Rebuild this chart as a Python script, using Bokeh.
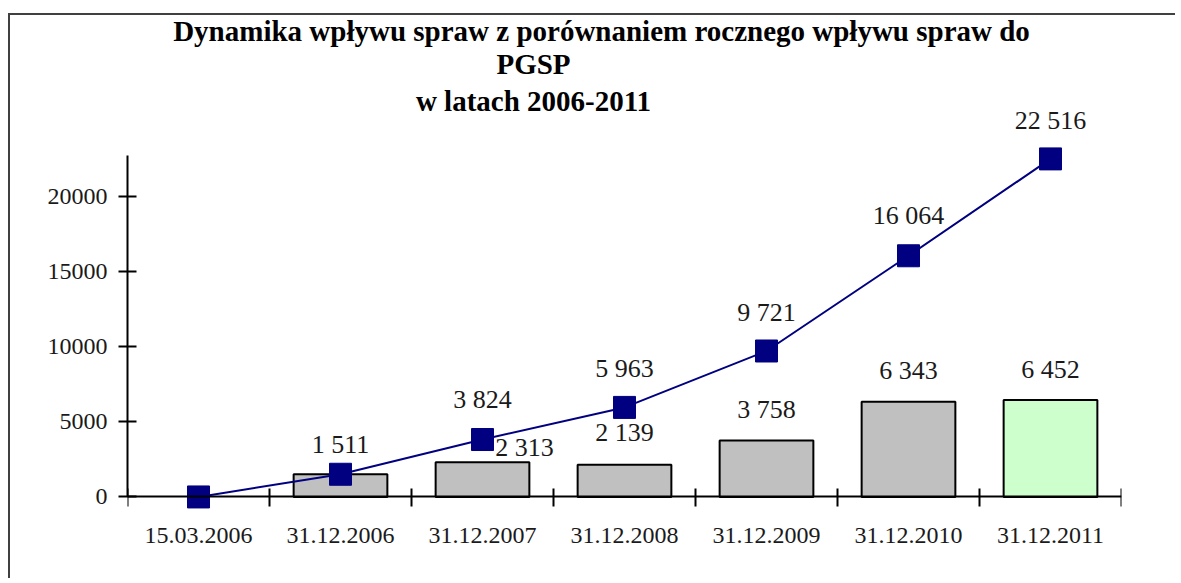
from bokeh.plotting import figure
from bokeh.models import Range1d, FixedTicker, ColumnDataSource, LabelSet, Label
from bokeh.embed import file_html
from bokeh.resources import INLINE
from bokeh.core.properties import value

categories = ["15.03.2006", "31.12.2006", "31.12.2007", "31.12.2008",
              "31.12.2009", "31.12.2010", "31.12.2011"]
annual_intake = [0, 1511, 2313, 2139, 3758, 6343, 6452]
cumulative_intake = [0, 1511, 3824, 5963, 9721, 16064, 22516]
y_ticks = [0, 5000, 10000, 15000, 20000]
title_lines = ["Dynamika wpływu spraw z porównaniem rocznego wpływu spraw do",
               "PGSP",
               "w latach 2006-2011"]

FONT = "Liberation Serif"
BAR_GREY = "#C0C0C0"
BAR_LAST = "#CCFFCC"
LINE_COLOR = "#000080"
FRAME_COLOR = "#404040"


def fmt(v):
    return f"{v:,}".replace(",", " ")


n = len(categories)
centers = [i + 0.5 for i in range(n)]

p = figure(width=1175, height=578, output_backend="svg", toolbar_location=None,
           x_range=Range1d(0, n), y_range=Range1d(-4500, 33067),
           min_border_left=127, min_border_right=54, min_border_top=0,
           min_border_bottom=14)
p.styles = {
    "background-image": f"linear-gradient({FRAME_COLOR}, {FRAME_COLOR}), "
                        f"linear-gradient({FRAME_COLOR}, {FRAME_COLOR})",
    "background-size": "100% 2px, 2px 100%",
    "background-position": "8px 13px, 8px 13px",
    "background-repeat": "no-repeat",
}
p.grid.visible = False
p.outline_line_color = None
p.background_fill_color = None
p.border_fill_color = None

# bars (annual intake)
bar_idx = [i for i, v in enumerate(annual_intake) if v > 0]
bar_src = ColumnDataSource(dict(
    x=[centers[i] for i in bar_idx],
    top=[annual_intake[i] for i in bar_idx],
    color=[BAR_LAST if i == n - 1 else BAR_GREY for i in bar_idx],
))
p.vbar(x="x", top="top", bottom=0, width=0.66, fill_color="color",
       line_color="black", line_width=2, source=bar_src)

# cumulative line
p.line(centers, cumulative_intake, line_color=LINE_COLOR, line_width=2)
p.scatter(centers, cumulative_intake, marker="square", size=22,
          fill_color=LINE_COLOR, line_color=LINE_COLOR)

# labels for the cumulative series (first point has none)
line_idx = [i for i in range(n) if cumulative_intake[i] > 0]
line_dy = [30, 40, 39, 38, 40, 38]
line_lab = ColumnDataSource(dict(
    x=[centers[i] for i in line_idx],
    y=[cumulative_intake[i] for i in line_idx],
    text=[fmt(cumulative_intake[i]) for i in line_idx],
    dy=line_dy,
))
p.add_layout(LabelSet(x="x", y="y", text="text", y_offset="dy", source=line_lab,
                      text_align="center", text_baseline="middle",
                      text_font=value(FONT), text_font_size="26px",
                      text_color="#1a1a1a"))

# labels for annual bars (2006 label coincides with the line label)
bl_idx = bar_idx[1:]
bar_dx = [42, 0, 0, 0, 0]
bar_dy = [15, 32, 31, 31, 31]
bar_lab = ColumnDataSource(dict(
    x=[centers[i] for i in bl_idx],
    y=[annual_intake[i] for i in bl_idx],
    text=[fmt(annual_intake[i]) for i in bl_idx],
    dx=bar_dx, dy=bar_dy,
))
p.add_layout(LabelSet(x="x", y="y", text="text", x_offset="dx", y_offset="dy",
                      source=bar_lab, text_align="center", text_baseline="middle",
                      text_font=value(FONT), text_font_size="26px",
                      text_color="#1a1a1a"))

# axes
xa = p.xaxis[0]
xa.fixed_location = 0
xa.ticker = FixedTicker(ticks=centers, minor_ticks=list(range(n + 1)))
xa.major_label_overrides = {c: lab for c, lab in zip(centers, categories)}
xa.major_tick_line_color = None
xa.major_tick_out = 0
xa.major_tick_in = 0
xa.minor_tick_in = 8
xa.minor_tick_out = 10
xa.minor_tick_line_width = 2
xa.minor_tick_line_color = "black"
xa.axis_line_width = 2
xa.axis_line_color = "black"
xa.major_label_standoff = 21
xa.major_label_text_font = FONT
xa.major_label_text_font_size = "24px"
xa.major_label_text_color = "#1a1a1a"

ya = p.yaxis[0]
ya.bounds = (0, 22733)
ya.ticker = FixedTicker(ticks=y_ticks)
ya.major_tick_in = 9
ya.major_tick_out = 9
ya.major_tick_line_width = 2
ya.major_tick_line_color = "black"
ya.minor_tick_line_color = None
ya.axis_line_width = 2
ya.axis_line_color = "black"
ya.major_label_standoff = 11
ya.major_label_text_font = FONT
ya.major_label_text_font_size = "24px"
ya.major_label_text_color = "#1a1a1a"

# title, three centred lines placed in canvas pixels
title_x = [601, 533, 533]
title_y = [30, 63, 100]
for line, tx, ty in zip(title_lines, title_x, title_y):
    p.add_layout(Label(x=tx, y=ty, x_units="canvas", y_units="canvas", text=line,
                       text_align="center", text_baseline="middle",
                       text_font=FONT, text_font_size="29px",
                       text_font_style="bold", text_color="black"))

open("out.html", "w").write(file_html(p, INLINE))
